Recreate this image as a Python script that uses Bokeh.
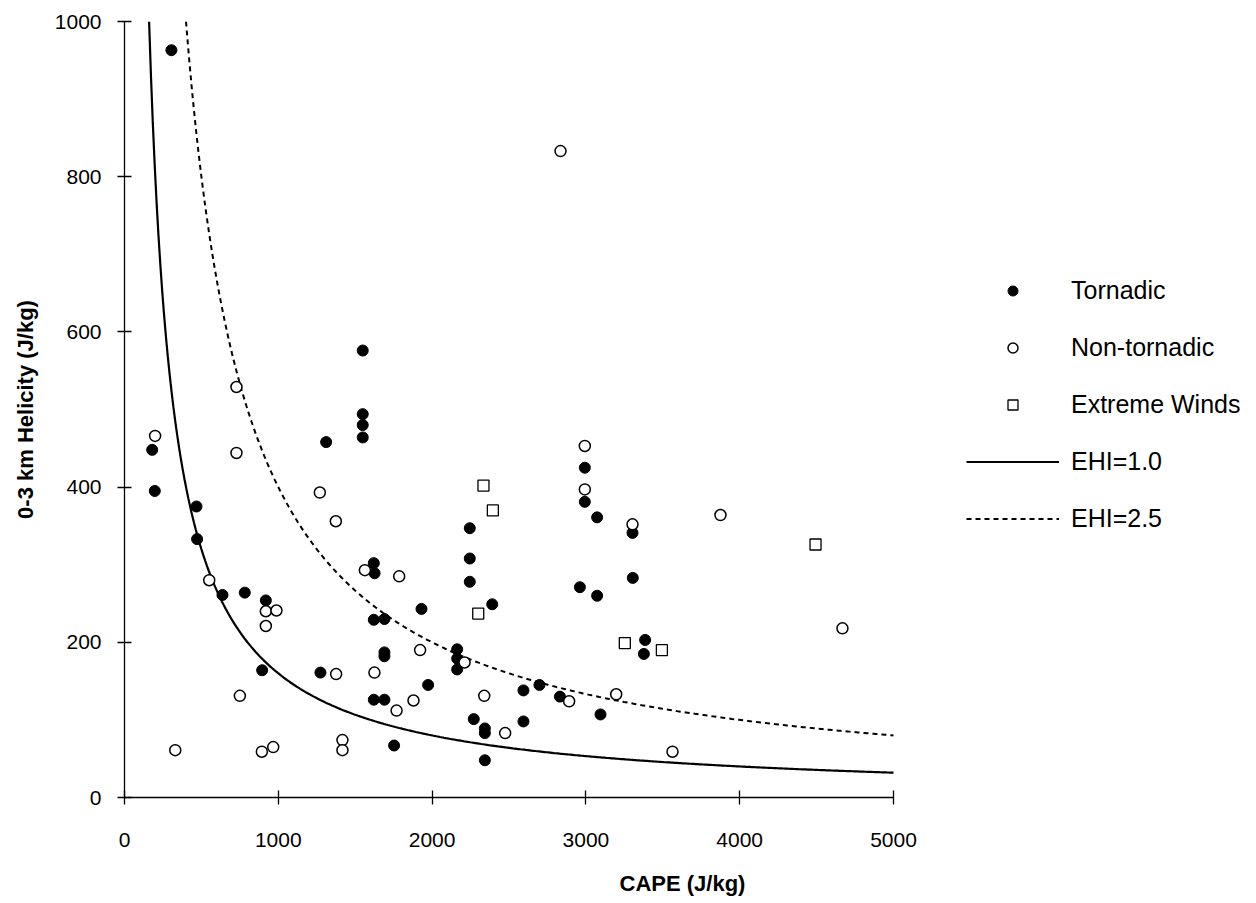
import numpy as np
from bokeh.plotting import figure
from bokeh.models import Legend, LegendItem, Range1d, FixedTicker
from bokeh.embed import file_html
from bokeh.resources import INLINE

# Tornadic cases (CAPE, helicity)
tor_cape = [305, 180, 197, 468, 472, 637, 782, 919, 895, 1311, 1549, 1549, 1549, 1549,
            1621, 1626, 1621, 1690, 1690, 1690, 1621, 1690, 1274, 1753, 1931, 1974,
            2163, 2163, 2163, 2245, 2245, 2245, 2391, 2271, 2343, 2343, 2343, 2594,
            2594, 2698, 2831, 2961, 3073, 2993, 2993, 3073, 3095, 3305, 3303, 3385, 3377]
tor_hel = [963, 448, 395, 375, 333, 261, 264, 254, 164, 458, 576, 494, 480, 464,
           302, 289, 229, 230, 187, 182, 126, 126, 161, 67, 243, 145,
           191, 179, 165, 347, 308, 278, 249, 101, 89, 83, 48, 138,
           98, 145, 130, 271, 260, 425, 381, 361, 107, 283, 341, 203, 185]

# Non-tornadic cases
non_cape = [199, 330, 551, 728, 728, 750, 893, 919, 919, 967, 988, 1270, 1374, 1376,
            1417, 1417, 1563, 1625, 1769, 1786, 1879, 1922, 2211, 2339, 2475, 2835,
            2891, 2993, 2993, 3197, 3303, 3563, 3875, 4668]
non_hel = [466, 61, 280, 529, 444, 131, 59, 240, 221, 65, 241, 393, 356, 159,
           74, 61, 293, 161, 112, 285, 125, 190, 174, 131, 83, 833,
           124, 453, 397, 133, 352, 59, 364, 218]

# Extreme wind cases
ext_cape = [2334, 2395, 2300, 3253, 3494, 4493]
ext_hel = [402, 370, 237, 199, 190, 326]

# EHI reference curves: helicity = EHI * 160000 / CAPE
ehi_levels = [1.0, 2.5]
ehi_labels = ["EHI=1.0", "EHI=2.5"]
x_ticks = [0, 1000, 2000, 3000, 4000, 5000]
y_ticks = [0, 200, 400, 600, 800, 1000]

FONT = "Liberation Sans"

# layout: plotted axis spans 0..5000 over 769 px; the frame continues to the right
# (empty) so the legend can sit beside the axes without being clipped
W, H = 1240, 900
LEFT, TOP, BOTTOM = 124, 21, 103
AXIS_PX = 769
x_end = 5000 * (W - LEFT) / AXIS_PX

p = figure(width=W, height=H, output_backend="svg", toolbar_location=None,
           x_range=Range1d(0, x_end), y_range=Range1d(0, 1000),
           min_border_left=LEFT, min_border_right=0, min_border_top=TOP,
           min_border_bottom=BOTTOM, background_fill_color="white",
           border_fill_color="white", outline_line_color=None)
p.grid.visible = False

curves = []
styles = [dict(line_width=2.2, line_dash="solid"), dict(line_width=2.0, line_dash="5 4")]
for ehi, st in zip(ehi_levels, styles):
    xs = np.linspace(160000 * ehi / 1000.0, 5000, 400)
    ys = 160000 * ehi / xs
    curves.append(p.line(xs, ys, line_color="black", **st))

r_tor = p.scatter(tor_cape, tor_hel, marker="circle", size=11, fill_color="black",
                  line_color="black", line_width=1)
r_non = p.scatter(non_cape, non_hel, marker="circle", size=11, fill_color="white",
                  line_color="black", line_width=1.5)
r_ext = p.scatter(ext_cape, ext_hel, marker="square", size=11, fill_color="white",
                  line_color="black", line_width=1.3)

for ax, ticks in ((p.xaxis[0], x_ticks), (p.yaxis[0], y_ticks)):
    ax.ticker = FixedTicker(ticks=ticks)
    ax.axis_line_color = "black"
    ax.axis_line_width = 1.3
    ax.major_tick_in = 7
    ax.major_tick_out = 7
    ax.major_tick_line_width = 1.3
    ax.minor_tick_line_color = None
    ax.major_label_text_font = FONT
    ax.major_label_text_font_size = "21px"
    ax.major_label_text_color = "black"
    ax.axis_label_text_font = FONT
    ax.axis_label_text_font_style = "bold"
    ax.axis_label_text_font_size = "22px"
    ax.axis_label_text_color = "black"

p.xaxis.bounds = (0, 5000)
p.xaxis.axis_label = "CAPE (J/kg)"
p.yaxis.axis_label = "0-3 km Helicity (J/kg)"
p.xaxis.major_label_standoff = 28
p.yaxis.major_label_standoff = 16
p.xaxis.axis_label_standoff = 21
p.yaxis.axis_label_standoff = 14

items = [LegendItem(label="Tornadic", renderers=[r_tor]),
         LegendItem(label="Non-tornadic", renderers=[r_non]),
         LegendItem(label="Extreme Winds", renderers=[r_ext]),
         LegendItem(label=ehi_labels[0], renderers=[curves[0]]),
         LegendItem(label=ehi_labels[1], renderers=[curves[1]])]
legend = Legend(items=items, location=(842, 264), padding=0, margin=0,
                border_line_color=None, background_fill_alpha=0,
                glyph_width=93, glyph_height=25, label_height=25, spacing=28,
                label_standoff=12,
                label_text_font=FONT, label_text_font_size="25px",
                label_text_color="black")
p.add_layout(legend, "center")

open("out.html", "w").write(file_html(p, INLINE))
